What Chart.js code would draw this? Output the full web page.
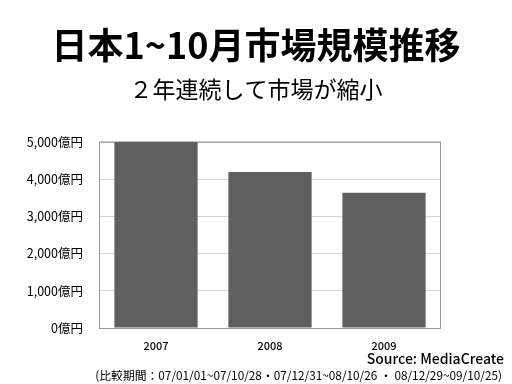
<!DOCTYPE html>
<html>
<head>
<meta charset="utf-8">
<script src="https://cdn.jsdelivr.net/npm/chart.js@4/dist/chart.umd.min.js"></script>
<style>
  html, body { margin: 0; padding: 0; background: #fff; }
  canvas { display: block; }
</style>
</head>
<body>
<canvas id="myChart" width="512" height="384"></canvas>
<script>
// data
const years = ['2007', '2008', '2009'];
const marketSize = [5000, 4190, 3630]; // 億円
const yTicks = [0, 1000, 2000, 3000, 4000, 5000];

const titleText = '日本1~10月市場規模推移';
const subtitleText = '２年連続して市場が縮小';
const sourceText = 'Source: MediaCreate';
const noteText = '(比較期間：07/01/01~07/10/28・07/12/31~08/10/26 ・ 08/12/29~09/10/25)';

const jp = '"Noto Sans CJK JP", "Noto Sans", sans-serif';

// frame round the plot + source/footnote lines
const extras = {
    id: 'extras',
    beforeDatasetsDraw(chart) {
        const a = chart.chartArea;
        const ctx = chart.ctx;
        ctx.save();
        ctx.strokeStyle = '#9a9a9a';
        ctx.lineWidth = 1;
        ctx.strokeRect(a.left + 0.5, a.top + 0.5, a.right - a.left - 1, a.bottom - a.top);
        ctx.restore();
    },
    afterDraw(chart) {
        const ctx = chart.ctx;
        ctx.save();
        ctx.fillStyle = '#000';
        ctx.textAlign = 'right';
        ctx.textBaseline = 'middle';
        ctx.font = '500 14px ' + jp;
        ctx.fillText(sourceText, 504, 359);
        ctx.font = '11.8px ' + jp;
        ctx.fillText(noteText, 502, 376);
        ctx.restore();
    }
};

let ctx = document.getElementById('myChart').getContext('2d');
let chart = new Chart(ctx, {
    type: 'bar',
    data: {
        labels: years,
        datasets: [{
            data: marketSize,
            backgroundColor: '#5f5f5f',
            borderWidth: 0,
            categoryPercentage: 1,
            barPercentage: 0.73
        }]
    },
    options: {
        responsive: false,
        animation: false,
        layout: { padding: 0 },
        plugins: {
            legend: { display: false },
            tooltip: { enabled: false },
            title: {
                display: true,
                text: titleText,
                color: '#000',
                font: { family: jp, size: 36, weight: 'bold', lineHeight: 1.2 },
                padding: { top: 24, bottom: 6 }
            },
            subtitle: {
                display: true,
                text: subtitleText,
                color: '#000',
                font: { family: jp, size: 23, weight: 'normal', lineHeight: 1.2 },
                padding: { top: 2, bottom: 39 }
            }
        },
        scales: {
            x: {
                grid: { display: false, drawTicks: false },
                border: { display: false },
                ticks: {
                    color: '#000',
                    font: { family: jp, size: 11, weight: '500' },
                    padding: 11
                },
                afterFit(scale) { scale.height = 56; }
            },
            y: {
                min: 0,
                max: 5000,
                afterBuildTicks(scale) {
                    scale.ticks = yTicks.map(v => ({ value: v }));
                },
                grid: { color: '#d4d4d4', drawTicks: false },
                border: { display: false },
                ticks: {
                    color: '#000',
                    font: { family: jp, size: 12.5 },
                    padding: 16,
                    callback: v => v.toLocaleString('en-US') + '億円'
                },
                afterFit(scale) { scale.width = 99; }
            },
            // empty right-hand axis, only keeps the blank margin on the right
            yRight: {
                position: 'right',
                min: 0,
                max: 5000,
                grid: { display: false, drawTicks: false },
                border: { display: false },
                ticks: { display: false },
                afterFit(scale) { scale.width = 71; }
            }
        }
    },
    plugins: [extras]
});
</script>
</body>
</html>
